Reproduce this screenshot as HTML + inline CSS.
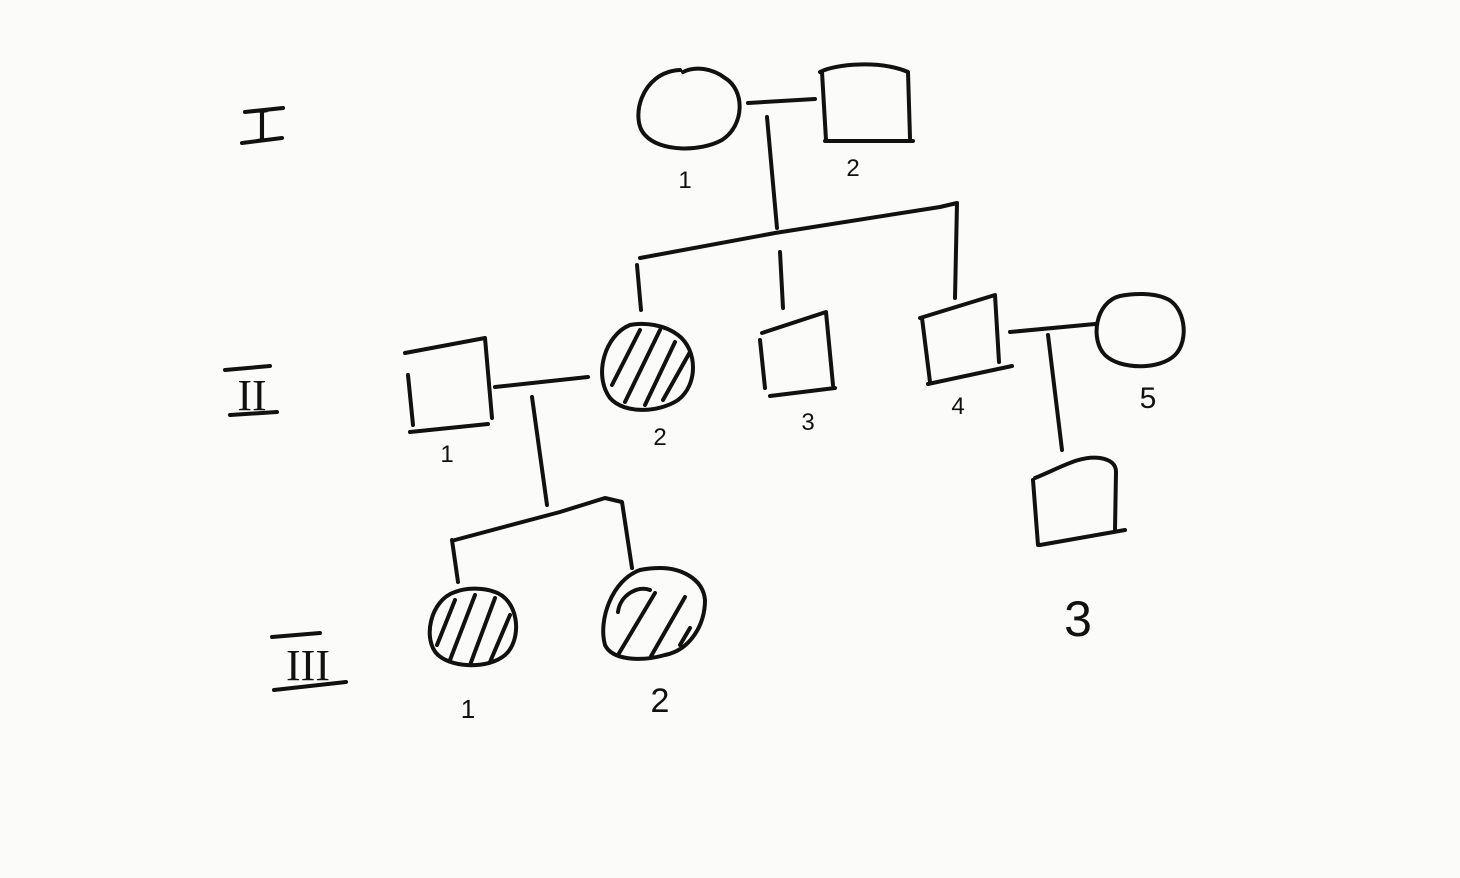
<!DOCTYPE html>
<html><head><meta charset="utf-8"><style>
html,body{margin:0;padding:0;background:#fbfbf9;}
svg{display:block;}
.s{fill:none;stroke:#111;stroke-width:4;stroke-linecap:round;stroke-linejoin:round;}
text{font-family:"Liberation Sans",sans-serif;fill:#111;}
.r{font-family:"Liberation Serif",serif;}
</style></head><body>
<svg width="1460" height="878" viewBox="0 0 1460 878">
<rect width="1460" height="878" fill="#fbfbf9"/>
<g>
<text class="r" x="262" y="140" font-size="44" text-anchor="middle">I</text>
<path class="s" d="M245 112 L283 108 M242 143 L282 138"/>
<text class="r" x="252" y="410" font-size="44" text-anchor="middle">II</text>
<path class="s" d="M225 370 L270 366 M230 415 L277 412"/>
<text class="r" x="308" y="680" font-size="44" text-anchor="middle">III</text>
<path class="s" d="M272 637 L320 633 M274 690 L346 682"/>
</g>
<g>
<path class="s" d="M680 70 C640 72 630 120 645 135 C660 152 700 152 722 140 C745 125 745 90 725 78 C712 68 695 66 683 72"/>
<path class="s" d="M748 103 L815 99"/>
<path class="s" d="M820 72 C835 64 880 60 908 72 L910 138 M822 72 L826 140 M825 141 L913 141"/>
<text x="685" y="188" font-size="24" text-anchor="middle">1</text>
<text x="853" y="176" font-size="24" text-anchor="middle">2</text>
<path class="s" d="M767 117 L777 228"/>
<path class="s" d="M640 258 L775 233 L940 207 L957 203 L955 298 M637 265 L641 310 M780 252 L783 308"/>
</g>
<g>
<path class="s" d="M405 353 L485 338 L492 418 M408 375 L413 425 M410 432 L488 424"/>
<text x="447" y="462" font-size="24" text-anchor="middle">1</text>
<path class="s" d="M495 387 L588 377"/>
<path class="s" d="M630 325 C605 335 593 375 610 398 C625 415 660 412 678 400 C698 385 698 350 678 335 C665 325 645 322 630 325 M612 385 L640 330 M625 402 L660 330 M645 405 L675 342 M663 400 L690 352"/>
<text x="660" y="445" font-size="24" text-anchor="middle">2</text>
<path class="s" d="M762 333 L826 312 L833 385 M760 340 L765 388 M770 396 L835 388"/>
<text x="808" y="430" font-size="24" text-anchor="middle">3</text>
<path class="s" d="M920 318 L995 295 L999 362 M922 318 L930 382 M928 384 L1012 366"/>
<text x="958" y="414" font-size="24" text-anchor="middle">4</text>
<path class="s" d="M1010 332 L1095 324"/>
<path class="s" d="M1120 296 C1095 302 1090 340 1105 355 C1120 370 1160 370 1175 355 C1190 340 1185 305 1165 298 C1150 292 1130 294 1120 296"/>
<text x="1148" y="408" font-size="30" text-anchor="middle">5</text>
<path class="s" d="M1048 335 L1062 450"/>
<path class="s" d="M532 397 L547 505"/>
<path class="s" d="M455 540 L560 512 L605 498 L622 502 L632 568 M452 540 L458 582"/>
</g>
<g>
<path class="s" d="M455 592 C430 600 422 640 438 655 C455 670 495 668 508 652 C522 635 518 600 495 592 C482 587 465 588 455 592 M437 645 L455 600 M450 660 L475 595 M470 665 L495 598 M490 662 L510 615"/>
<text x="468" y="718" font-size="26" text-anchor="middle">1</text>
<path class="s" d="M640 570 C612 580 598 620 605 645 C612 660 640 662 665 655 C690 650 705 625 705 600 C703 578 680 568 660 568 C650 568 645 569 640 570 M618 612 C620 595 638 585 650 590 M618 655 L655 593 M650 658 L685 597 M680 645 L690 628"/>
<text x="660" y="712" font-size="34" text-anchor="middle">2</text>
<path class="s" d="M1035 478 C1060 468 1080 455 1100 458 C1112 460 1116 465 1116 472 L1115 530 M1033 480 L1038 545 M1040 545 L1125 530"/>
<text x="1078" y="636" font-size="50" text-anchor="middle">3</text>
</g>
</svg>
</body></html>
